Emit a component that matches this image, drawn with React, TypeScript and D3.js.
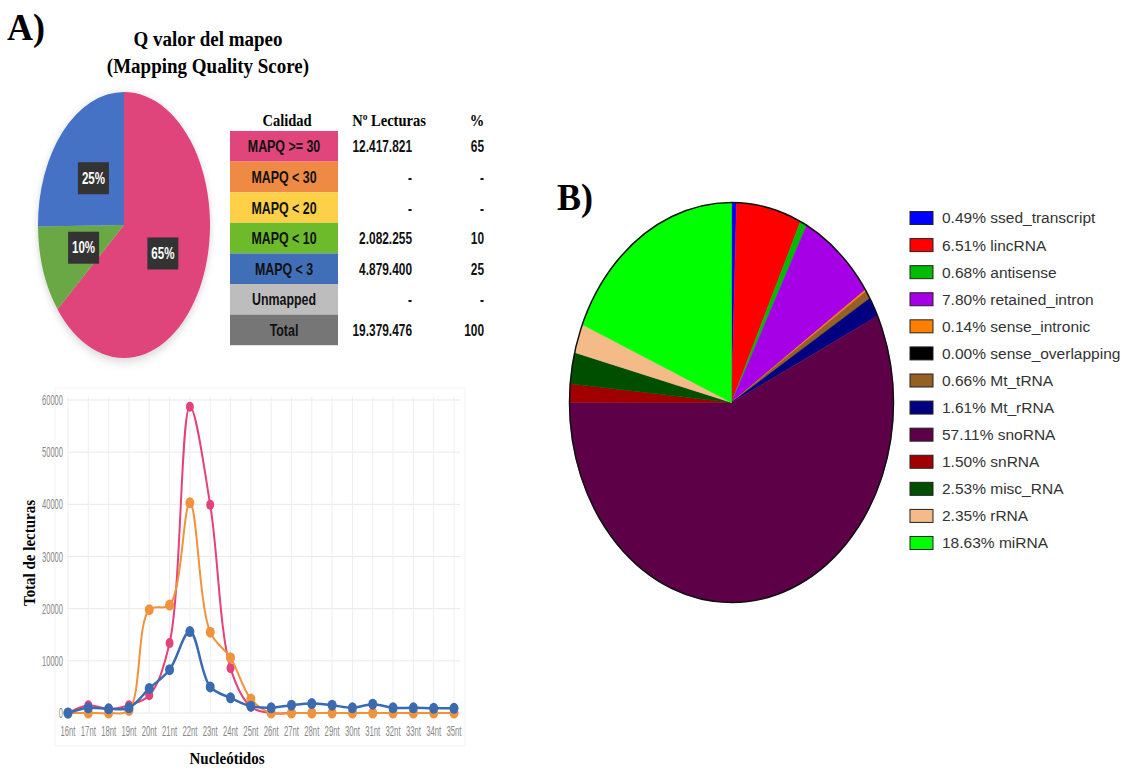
import React from 'react'
import * as d3 from 'd3'

// ---- panel A: mapping quality ----
const qualityLabels = ['MAPQ >= 30', 'MAPQ < 30', 'MAPQ < 20', 'MAPQ < 10', 'MAPQ < 3', 'Unmapped', 'Total']
const qualityColors = ['#E0457B', '#EE8A43', '#FDD047', '#6DBB2B', '#416FB7', '#BDBDBD', '#767676']
const readCounts = [12417821, 0, 0, 2082255, 4879400, 0, 19379476]
const readLabels = ['12.417.821', '-', '-', '2.082.255', '4.879.400', '-', '19.379.476']
const percentLabels = ['65', '-', '-', '10', '25', '-', '100']
const pieAColors = ['#DF457A', '#EE8A43', '#FDD047', '#6AA845', '#4472C4']

// ---- panel A: read length distribution ----
const categories = ['16nt', '17nt', '18nt', '19nt', '20nt', '21nt', '22nt', '23nt', '24nt', '25nt',
  '26nt', '27nt', '28nt', '29nt', '30nt', '31nt', '32nt', '33nt', '34nt', '35nt']
const pinkValues = [0, 1500, 800, 1500, 3400, 13400, 58700, 39900, 8600, 1200, 0, 0, 0, 0, 0, 0, 0, 0, 0, 0]
const orangeValues = [0, 0, 0, 500, 19800, 20700, 40300, 15500, 10600, 2700, 0, 0, 0, 0, 0, 0, 0, 0, 0, 0]
const blueValues = [0, 1000, 800, 1000, 4700, 8300, 15600, 5000, 2900, 1300, 1000, 1500, 1800, 1500, 1000, 1700, 1000, 1000, 900, 900]
const yTicks = [0, 10000, 20000, 30000, 40000, 50000, 60000]

// ---- panel B: biotypes ----
const biotypes = ['ssed_transcript', 'lincRNA', 'antisense', 'retained_intron', 'sense_intronic', 'sense_overlapping',
  'Mt_tRNA', 'Mt_rRNA', 'snoRNA', 'snRNA', 'misc_RNA', 'rRNA', 'miRNA']
const biotypePercents = [0.49, 6.51, 0.68, 7.8, 0.14, 0.0, 0.66, 1.61, 57.11, 1.5, 2.53, 2.35, 18.63]
const biotypeColors = ['#0000FF', '#FF0000', '#00BB00', '#A500E6', '#FF8000', '#000000',
  '#946024', '#000080', '#5E0048', '#A00000', '#004F00', '#F4BB88', '#00FF00']

const serif = "'Times New Roman', 'Liberation Serif', serif"
const sans = "'Liberation Sans', Arial, sans-serif"

// narrow text: no condensed font installed, so squeeze a regular sans horizontally
const Narrow = ({ x, y, anchor = 'middle', size, sx = 0.8, bold = false, fill = '#111', children }: any) => (
  <g transform={`translate(${x},${y}) scale(${sx},1)`}>
    <text textAnchor={anchor} dy="0.36em" fontFamily={sans} fontWeight={bold ? 'bold' : 'normal'}
      fontSize={size} fill={fill}>{children}</text>
  </g>
)

// the source figure is a little stretched vertically; bold serif headings follow that
const Heading = ({ x, y, size, anchor = 'middle', sy = 1.15, children }: any) => (
  <g transform={`translate(${x},${y}) scale(1,${sy})`}>
    <text textAnchor={anchor} fontFamily={serif} fontWeight="bold" fontSize={size}>{children}</text>
  </g>
)

const PieA = () => {
  const cx = 124, cy = 225, rx = 86, ry = 133, r = 100
  const pie = d3.pie<number>().sort(null).value(d => d)
  const arcs = pie(readCounts.slice(0, 5))
  const arc = d3.arc<d3.PieArcDatum<number>>().innerRadius(0).outerRadius(r)
  const pctShown = ['65%', '', '', '10%', '25%']
  return (
    <g>
      <defs>
        <filter id="shadowA" x="-20%" y="-20%" width="140%" height="140%">
          <feDropShadow dx="0" dy="2" stdDeviation="4" floodColor="#000" floodOpacity="0.18" />
        </filter>
      </defs>
      <g transform={`translate(${cx},${cy}) scale(${rx / r},${ry / r})`} filter="url(#shadowA)">
        {arcs.map((a, i) => a.value > 0 && (
          <path key={i} d={arc(a) || ''} fill={pieAColors[i]} />
        ))}
      </g>
      {arcs.map((a, i) => {
        if (a.value <= 0) return null
        const [px, py] = arc.centroid(a)
        const x = cx + px * rx / r
        const y = cy + py * ry / r
        return (
          <g key={'l' + i}>
            <rect x={x - 15.5} y={y - 16} width={31} height={32} fill="#333" />
            <Narrow x={x} y={y} size={16} sx={0.72} bold fill="#fff">{pctShown[i]}</Narrow>
          </g>
        )
      })}
    </g>
  )
}

const TableA = () => {
  const top = 131, rowH = 30.6, x0 = 230, w = 108
  return (
    <g>
      <Heading x={287} y={126} size={14.5}>Calidad</Heading>
      <Heading x={389} y={126} size={14.5}>Nº Lecturas</Heading>
      <Heading x={477} y={126} size={14.5}>%</Heading>
      {qualityLabels.map((q, i) => {
        const y = top + i * rowH
        return (
          <g key={q}>
            <rect x={x0} y={y} width={w} height={rowH} fill={qualityColors[i]} />
            <Narrow x={x0 + w / 2} y={y + rowH / 2} size={17} sx={0.73} bold>{q}</Narrow>
            <Narrow x={412} y={y + rowH / 2} anchor="end" size={17} sx={0.7} bold>{readLabels[i]}</Narrow>
            <Narrow x={484} y={y + rowH / 2} anchor="end" size={17} sx={0.7} bold>{percentLabels[i]}</Narrow>
          </g>
        )
      })}
    </g>
  )
}

const LineChartA = () => {
  const x = d3.scalePoint<string>().domain(categories).range([68, 454])
  const y = d3.scaleLinear().domain([0, 60000]).range([713, 400])
  const line = d3.line<number>()
    .x((_, i) => x(categories[i]) as number)
    .y(d => y(d))
    .curve(d3.curveCatmullRom.alpha(0.5))
  const series = [
    { values: pinkValues, color: '#E3437A', width: 2, r: 4 },
    { values: orangeValues, color: '#F0933D', width: 2, r: 4.5 },
    { values: blueValues, color: '#3A6BB0', width: 2.5, r: 4.5 },
  ]
  return (
    <g>
      <rect x={55} y={388} width={410} height={358} fill="#fff" stroke="#f3f3f3" />
      {yTicks.map(t => (
        <g key={t}>
          <line x1={67} x2={460} y1={y(t)} y2={y(t)} stroke="#e9e9e9" />
          <Narrow x={63} y={y(t)} anchor="end" size={14} sx={0.54} fill="#888">{t}</Narrow>
        </g>
      ))}
      {categories.map(c => (
        <g key={c}>
          <line x1={x(c)} x2={x(c)} y1={397} y2={713} stroke="#eeeeee" />
          <Narrow x={x(c)} y={731} size={14} sx={0.55} fill="#888">{c}</Narrow>
        </g>
      ))}
      {series.map((s, si) => (
        <g key={si}>
          <path d={line(s.values) || ''} fill="none" stroke={s.color} strokeWidth={s.width} />
          {s.values.map((v, i) => (
            <ellipse key={i} cx={x(categories[i])} cy={y(v)} rx={s.r} ry={s.r + 1} fill={s.color} />
          ))}
        </g>
      ))}
      <g transform="translate(35,553) rotate(-90) scale(1,1.1)">
        <text textAnchor="middle" fontFamily={serif} fontWeight="bold" fontSize={15}>Total de lecturas</text>
      </g>
      <Heading x={227} y={764} size={15}>Nucleótidos</Heading>
    </g>
  )
}

const PieB = () => {
  const cx = 731.5, cy = 402.5, rx = 162, ry = 200, r = 100
  const pie = d3.pie<number>().sort(null).value(d => d)
  const arcs = pie(biotypePercents)
  const arc = d3.arc<d3.PieArcDatum<number>>().innerRadius(0).outerRadius(r)
  return (
    <g transform={`translate(${cx},${cy}) scale(${rx / r},${ry / r})`}>
      {arcs.map((a, i) => a.value > 0 && (
        <path key={i} d={arc(a) || ''} fill={biotypeColors[i]} stroke={biotypeColors[i]}
          strokeWidth={0.5} vectorEffect="non-scaling-stroke" />
      ))}
      <ellipse cx={0} cy={0} rx={r} ry={r} fill="none" stroke="#111" strokeWidth={1.5}
        vectorEffect="non-scaling-stroke" />
    </g>
  )
}

const LegendB = () => {
  const y = d3.scalePoint<string>().domain(biotypes).range([218, 543])
  return (
    <g>
      {biotypes.map((b, i) => (
        <g key={b} transform={`translate(910,${y(b)})`}>
          <rect x={0} y={-6.5} width={23} height={13} fill={biotypeColors[i]} stroke="#222" strokeWidth={1} />
          <text x={32} y={0} dy="0.35em" fontFamily={sans} fontSize={15.5} fill="#333">
            {biotypePercents[i].toFixed(2)}%  {b}
          </text>
        </g>
      ))}
    </g>
  )
}

export default function App() {
  return (
    <svg width={1131} height={770} style={{ position: 'absolute', left: 0, top: 0, background: '#fff' }}>
      <Heading x={7} y={40} size={36} anchor="start" sy={1.05}>A)</Heading>
      <Heading x={208} y={46} size={19}>Q valor del mapeo</Heading>
      <Heading x={208} y={73} size={19}>(Mapping Quality Score)</Heading>
      <PieA />
      <TableA />
      <LineChartA />
      <Heading x={557} y={210} size={36} anchor="start" sy={1.05}>B)</Heading>
      <PieB />
      <LegendB />
    </svg>
  )
}
